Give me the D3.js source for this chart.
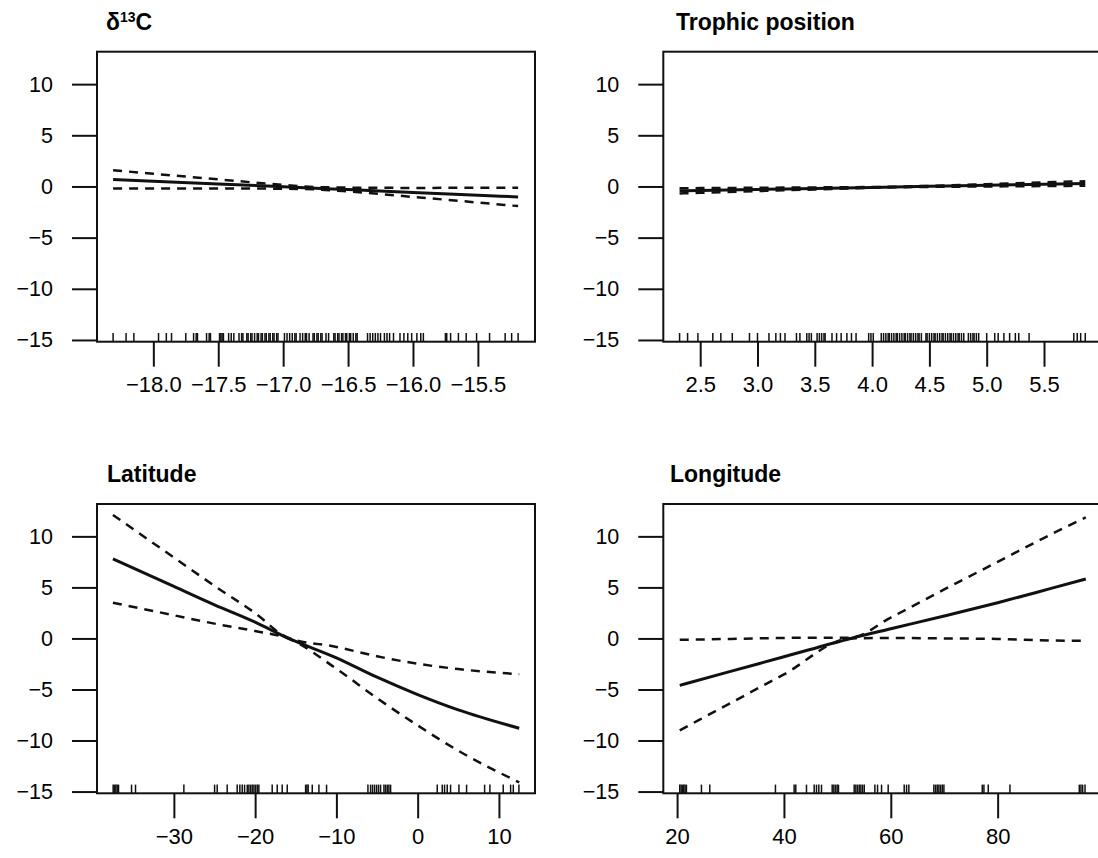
<!DOCTYPE html>
<html><head><meta charset="utf-8">
<script src="https://cdn.jsdelivr.net/npm/d3@7"></script>
<style>body{margin:0;background:#fff}svg{display:block}text{font-family:"Liberation Sans",Arial,sans-serif;fill:#000}</style>
</head><body><svg id="c" width="1098" height="858"></svg>
<script>
// ---- data ----
const yTicks = [-15,-10,-5,0,5,10];

const d13cX = [-18.31,-18.0,-17.5,-17.0,-16.75,-16.5,-16.0,-15.5,-15.19];
const d13cFit = [0.69,0.52,0.25,-0.03,-0.17,-0.30,-0.58,-0.85,-1.02];
const d13cUpper = [1.59,1.24,0.69,0.16,-0.05,-0.11,-0.14,-0.13,-0.12];
const d13cLower = [-0.21,-0.20,-0.19,-0.22,-0.29,-0.49,-1.02,-1.57,-1.92];
const d13cTicks = [-18.0,-17.5,-17.0,-16.5,-16.0,-15.5];
const d13cRug = [-18.31,-18.21,-18.15,-17.96,-17.90,-17.86,-17.75,-17.69,-17.67,-17.66,-17.59,-17.57,-17.56,-17.49,-17.48,-17.47,-17.46,-17.42,-17.40,-17.38,-17.34,-17.32,-17.31,-17.28,-17.27,-17.25,-17.24,-17.22,-17.20,-17.19,-17.17,-17.16,-17.14,-17.13,-17.11,-17.10,-17.08,-17.07,-17.05,-17.04,-16.99,-16.97,-16.95,-16.93,-16.91,-16.90,-16.87,-16.85,-16.83,-16.82,-16.80,-16.77,-16.76,-16.74,-16.73,-16.71,-16.70,-16.67,-16.65,-16.61,-16.60,-16.58,-16.57,-16.55,-16.54,-16.52,-16.51,-16.49,-16.48,-16.46,-16.44,-16.43,-16.35,-16.33,-16.31,-16.29,-16.27,-16.25,-16.22,-16.20,-16.18,-16.15,-16.10,-16.07,-16.04,-16.01,-15.97,-15.94,-15.92,-15.75,-15.74,-15.71,-15.65,-15.59,-15.51,-15.41,-15.29,-15.24,-15.19];

const tpX = [2.32,2.5,3.0,3.5,4.0,4.2,4.5,5.0,5.5,5.86];
const tpFit = [-0.43,-0.39,-0.29,-0.19,-0.09,-0.05,0.01,0.11,0.22,0.29];
const tpUpper = [-0.18,-0.16,-0.13,-0.09,-0.05,-0.02,0.06,0.22,0.40,0.51];
const tpLower = [-0.68,-0.62,-0.45,-0.29,-0.13,-0.08,-0.04,0.00,0.04,0.07];
const tpTicks = [2.5,3.0,3.5,4.0,4.5,5.0,5.5];
const tpRug = [2.32,2.39,2.48,2.61,2.68,2.78,2.93,3.00,3.10,3.16,3.20,3.24,3.34,3.37,3.43,3.45,3.47,3.52,3.54,3.56,3.58,3.59,3.65,3.69,3.73,3.78,3.82,3.86,3.97,3.99,4.01,4.08,4.10,4.12,4.14,4.15,4.17,4.19,4.21,4.22,4.24,4.26,4.28,4.29,4.31,4.33,4.34,4.36,4.38,4.40,4.41,4.43,4.47,4.48,4.50,4.52,4.54,4.55,4.57,4.59,4.61,4.62,4.64,4.66,4.68,4.69,4.71,4.73,4.75,4.76,4.78,4.80,4.84,4.86,4.88,4.89,4.91,4.93,5.00,5.07,5.10,5.15,5.20,5.25,5.28,5.37,5.76,5.79,5.82,5.86];

const latX = [-37.5,-30,-25,-20,-16,-10,-5,0,5,12.5];
const latFit = [7.8,5.1,3.3,1.6,0.05,-1.9,-3.8,-5.5,-7.0,-8.8];
const latUpper = [12.1,7.93,5.15,2.48,0.08,-0.83,-1.75,-2.48,-3.0,-3.5];
const latLower = [3.5,2.27,1.45,0.72,0.02,-2.97,-5.85,-8.52,-11.0,-14.1];
const latTicks = [-30,-20,-10,0,10];
const latRug = [-37.47,-37.30,-37.14,-36.97,-36.81,-35.21,-34.72,-28.77,-24.99,-24.67,-23.44,-22.21,-21.88,-21.59,-21.30,-20.97,-20.77,-20.56,-20.36,-20.15,-19.95,-19.74,-19.54,-17.90,-17.28,-16.67,-16.05,-13.79,-13.63,-13.47,-12.97,-12.15,-11.21,-6.12,-5.79,-5.55,-5.30,-5.05,-4.81,-4.56,-4.15,-3.95,-3.74,-3.54,-3.33,2.41,3.03,3.31,3.64,4.05,5.08,6.02,8.24,8.89,10.53,11.44,11.77,12.46];

const lonX = [20.5,30,40,52.5,60,70,80,90,96.5];
const lonFit = [-4.6,-3.23,-1.8,0.0,0.95,2.2,3.5,4.9,5.82];
const lonUpper = [-0.13,-0.05,0.05,0.08,2.05,4.8,7.5,10.2,11.85];
const lonLower = [-9.0,-6.33,-3.52,0.0,0.05,0.0,-0.05,-0.2,-0.23];
const lonTicks = [20,40,60,80];
const lonRug = [20.50,20.75,21.00,21.25,21.50,21.75,24.56,26.12,38.41,41.91,42.22,44.22,45.66,46.09,46.53,47.03,49.03,49.34,49.65,49.96,50.21,53.15,53.46,53.77,54.09,54.40,54.71,55.03,57.02,57.52,58.27,59.51,62.51,62.95,63.38,68.06,68.38,68.69,69.00,69.31,69.63,69.94,77.12,77.43,78.24,82.30,95.28,95.59,95.91,96.35];

// ---- drawing ----
const svg = d3.select("#c");
const FONT = "Liberation Sans, Arial, sans-serif";

function panel(o) {
  const x = d3.scaleLinear().domain(o.xdom).range([o.left, o.right]);
  const y = d3.scaleLinear().domain([-15.17, 13.17]).range([o.bottom, o.top]);
  const g = svg.append("g");
  const ink = "#111";
  g.append("rect").attr("x", o.left).attr("y", o.top)
    .attr("width", o.right - o.left).attr("height", o.bottom - o.top)
    .attr("fill", "none").attr("stroke", ink).attr("stroke-width", 2);
  const ya = d3.axisLeft(y).tickValues(yTicks).tickSize(25).tickPadding(19)
    .tickFormat(v => (v < 0 ? "\u2212" : "") + Math.abs(v));
  const yg = g.append("g").attr("transform", `translate(${o.left},0)`).call(ya);
  yg.select(".domain").remove();
  yg.selectAll("line").attr("stroke", ink).attr("stroke-width", 2);
  yg.selectAll("text").attr("font-size", 21.5).attr("font-family", FONT).attr("fill", "#000");
  const xa = d3.axisBottom(x).tickValues(o.ticks).tickSize(25).tickPadding(10)
    .tickFormat(v => (v < 0 ? "\u2212" : "") + d3.format(o.fmt)(Math.abs(v)));
  const xg = g.append("g").attr("transform", `translate(0,${o.bottom})`).call(xa);
  xg.select(".domain").remove();
  xg.selectAll("line").attr("stroke", ink).attr("stroke-width", 2);
  xg.selectAll("text").attr("font-size", 22).attr("font-family", FONT).attr("fill", "#000");
  g.append("g").selectAll("line").data(o.rug).join("line")
    .attr("x1", d => x(d)).attr("x2", d => x(d))
    .attr("y1", o.bottom).attr("y2", o.bottom - 0.03 * (o.bottom - o.top))
    .attr("stroke", ink).attr("stroke-width", 1.5);
  const line = d3.line().curve(d3.curveMonotoneX).x((d, i) => x(o.xs[i])).y(d => y(d));
  g.append("path").attr("d", line(o.fit)).attr("fill", "none").attr("stroke", ink).attr("stroke-width", 3);
  [o.upper, o.lower].forEach(s => {
    g.append("path").attr("d", line(s)).attr("fill", "none").attr("stroke", ink)
      .attr("stroke-width", 2.5).attr("stroke-dasharray", "9,7");
  });
  const t = g.append("text").attr("x", o.tx).attr("y", o.top - 22)
    .attr("font-size", 23).attr("font-weight", "bold");
  o.title(t);
}

const TOP = [51.7, 341.7], BOT = [504, 793.3];
panel({left:97, right:535, top:TOP[0], bottom:TOP[1], xdom:[-18.434,-15.06], ticks:d13cTicks, fmt:".1f",
  rug:d13cRug, xs:d13cX, fit:d13cFit, upper:d13cUpper, lower:d13cLower, tx:106,
  title: t => { t.append("tspan").text("\u03B4"); t.append("tspan").attr("font-size",14).attr("dy",-8).text("13"); t.append("tspan").attr("dy",8).text("C"); }});
panel({left:663.3, right:1101.3, top:TOP[0], bottom:TOP[1], xdom:[2.178,6.0], ticks:tpTicks, fmt:".1f",
  rug:tpRug, xs:tpX, fit:tpFit, upper:tpUpper, lower:tpLower, tx:676,
  title: t => t.text("Trophic position")});
panel({left:97, right:535, top:BOT[0], bottom:BOT[1], xdom:[-39.46,14.44], ticks:latTicks, fmt:"d",
  rug:latRug, xs:latX, fit:latFit, upper:latUpper, lower:latLower, tx:107,
  title: t => t.text("Latitude")});
panel({left:663.3, right:1101.3, top:BOT[0], bottom:BOT[1], xdom:[17.42,99.4], ticks:lonTicks, fmt:"d",
  rug:lonRug, xs:lonX, fit:lonFit, upper:lonUpper, lower:lonLower, tx:670,
  title: t => t.text("Longitude")});
</script></body></html>
